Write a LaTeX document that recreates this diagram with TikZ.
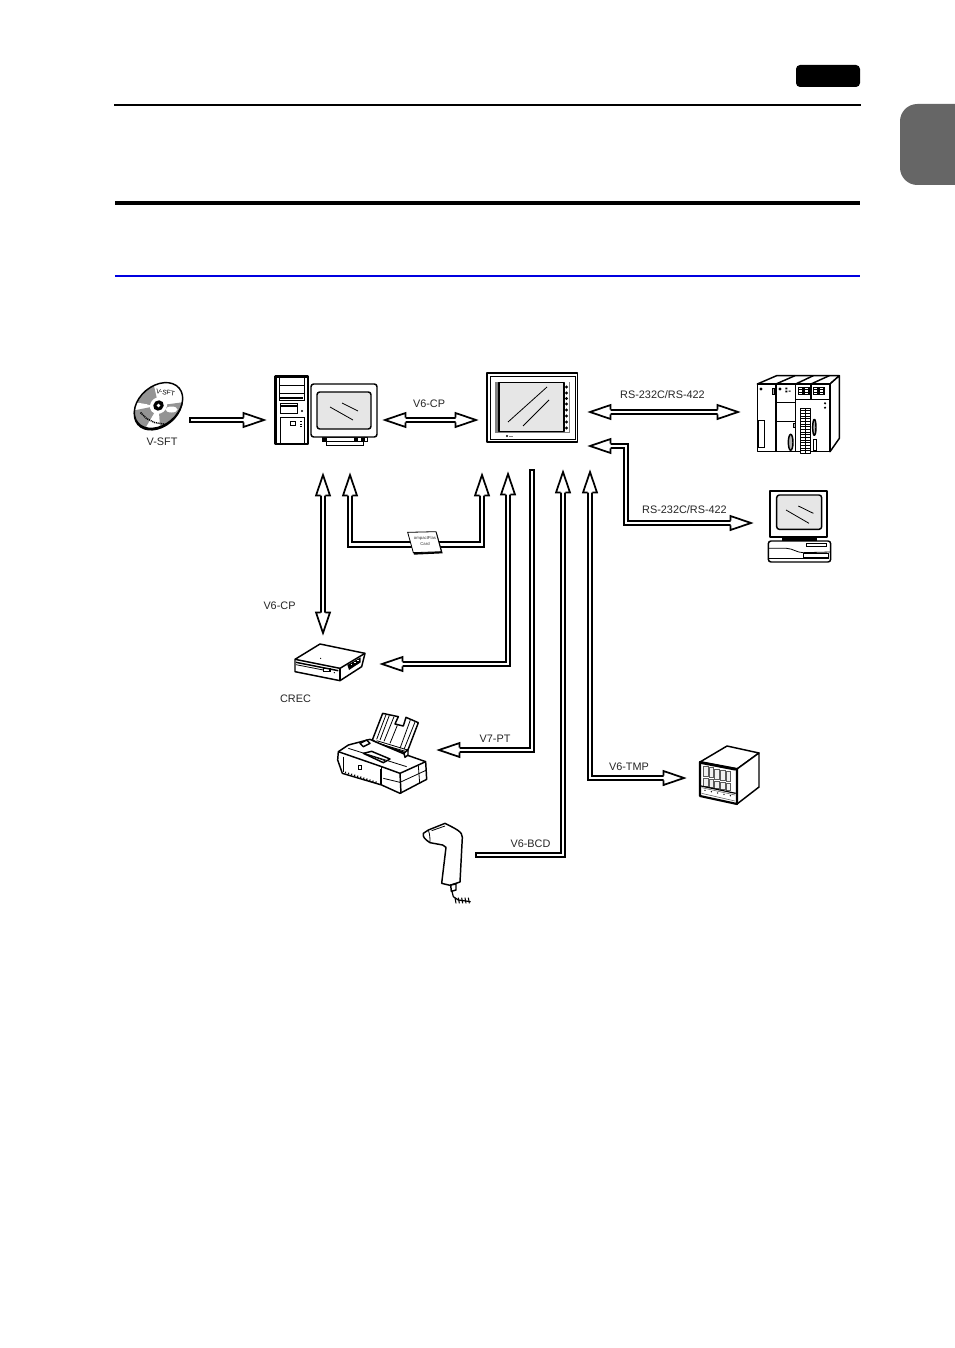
\documentclass[tikz,border=0pt]{standalone}
\usepackage{fontspec}
\setmainfont{Liberation Sans}
\definecolor{scr}{HTML}{E6E6E6}
\definecolor{tabgray}{HTML}{666666}
\definecolor{rulblue}{HTML}{0000E0}
\tikzset{
  pipe/.style={draw=black,line width=1.25pt,double=white,double distance=2.1pt,line join=miter},
  tipA/.style={shorten >=17.4pt},
  tipB/.style={shorten <=17.4pt},
  lab/.style={font=\fontsize{8.15pt}{9pt}\selectfont,text=black!85,inner sep=0pt},
  dev/.style={draw=black,line width=1.1pt,line join=round},
  devthin/.style={draw=black,line width=.6pt},
  devhair/.style={draw=black!65,line width=.4pt},
  devthick/.style={draw=black,line width=1.6pt,line join=round},
  zm/.style 2 args={shift={(#1,#2)},x=.25pt,y=-.25pt},
  hd/.pic={\draw[fill=white,draw=black,line width=1.3pt,line join=miter]
     (-23.5,2.3)--(-23.5,7)--(-3,0)--(-23.5,-7)--(-23.5,-2.3);},
  endcap/.pic={\draw[black,line width=1.25pt] (0,-3)--(0,3);}
}
\begin{document}
\begin{tikzpicture}[x=.75pt,y=-.75pt]
\useasboundingbox (0,0) rectangle (954,1348);
\fill[white] (0,0) rectangle (954,1348);
% page furniture
\fill[black,rounded corners=3pt] (796,65) rectangle (860,87);
\draw[black,line width=2.2pt] (114,105)--(861,105);
\draw[black,line width=3pt] (115,203)--(860,203);
\draw[rulblue,line width=1.1pt] (115,276)--(860,276);
\fill[tabgray,rounded corners=13pt] (900,104) rectangle (980,185);

% connector end points
\coordinate (sftA) at (190,420);
\coordinate (sftB) at (267,420);
\coordinate (cpL) at (382,420);
\coordinate (cpR) at (479,420);
\coordinate (crT) at (323,472);
\coordinate (crB) at (323,636);
\coordinate (cfL) at (350,472);
\coordinate (cfLb) at (350,544.5);
\coordinate (cfRb) at (482,544.5);
\coordinate (cfR) at (482,472);
\coordinate (recT) at (508,471);
\coordinate (recC) at (508,664);
\coordinate (recE) at (379,664);
\coordinate (ptT) at (532,470);
\coordinate (ptC) at (532,750);
\coordinate (ptE) at (436,750);
\coordinate (bcT) at (563,469);
\coordinate (bcC) at (563,855);
\coordinate (bcE) at (476,855);
\coordinate (tmT) at (590,469);
\coordinate (tmC) at (590,778);
\coordinate (tmE) at (687,778);
\coordinate (rsL) at (587,412);
\coordinate (rsR) at (741,412);
\coordinate (r2L) at (587,446);
\coordinate (r2C) at (626,446);
\coordinate (r2D) at (626,523);
\coordinate (r2E) at (754,523);

% connectors
\draw[pipe,tipA] (sftA)--(sftB);
\draw[pipe,tipA,tipB] (cpL)--(cpR);
\draw[pipe,tipA,tipB] (crT)--(crB);
\draw[pipe,tipA,tipB] (cfL)--(cfLb)--(cfRb)--(cfR);
\draw[pipe,tipA,tipB] (recT)--(recC)--(recE);
\draw[pipe,tipA] (ptT)--(ptC)--(ptE);
\draw[pipe,tipB] (bcT)--(bcC)--(bcE);
\draw[pipe,tipA,tipB] (tmT)--(tmC)--(tmE);
\draw[pipe,tipA,tipB] (rsL)--(rsR);
\draw[pipe,tipA,tipB] (r2L)--(r2C)--(r2D)--(r2E);

\pic at (sftA) {endcap};
\pic[rotate=90] at (ptT) {endcap};
\pic at (bcE) {endcap};
\pic at (sftB) {hd};
\pic[rotate=180] at (cpL) {hd};
\pic at (cpR) {hd};
\pic[rotate=90] at (crT) {hd};
\pic[rotate=-90] at (crB) {hd};
\pic[rotate=90] at (cfL) {hd};
\pic[rotate=90] at (cfR) {hd};
\pic[rotate=90] at (recT) {hd};
\pic[rotate=180] at (recE) {hd};
\pic[rotate=180] at (ptE) {hd};
\pic[rotate=90] at (bcT) {hd};
\pic[rotate=90] at (tmT) {hd};
\pic at (tmE) {hd};
\pic[rotate=180] at (rsL) {hd};
\pic at (rsR) {hd};
\pic[rotate=180] at (r2L) {hd};
\pic at (r2E) {hd};

% labels
\node[lab] (l1) at (162,442) {V-SFT};
\node[lab] (l2) at (429,404) {V6-CP};
\node[lab] (l3) at (662.5,395) {RS-232C/RS-422};
\node[lab] (l4) at (684.5,510) {RS-232C/RS-422};
\node[lab] (l5) at (279.5,606) {V6-CP};
\node[lab] (l6) at (295.5,699) {CREC};
\node[lab] (l7) at (495,739) {V7-PT};
\node[lab] (l8) at (530.5,844) {V6-BCD};
\node[lab] (l9) at (629,767) {V6-TMP};

% CD
\begin{scope}[shift={(158.5,405.5)}]
\fill[black,rotate=40] (-1.2,1.2) ellipse [x radius=27.5,y radius=20];
\begin{scope}
\clip[rotate=40] (0,0) ellipse [x radius=27,y radius=19.5];
\fill[white] (-30,-30) rectangle (30,30);
\fill[black!42] (0,0)--(-30,-2)--(-30,-24)--(-6,-26)--cycle;
\fill[black!42] (0,0)--(30,-4)--(30,16)--(18,28)--(2,28)--cycle;
\fill[black!42] (0,0)--(-30,6)--(-30,12)--(-14,24)--cycle;
\fill[white] (13,4) ellipse [x radius=6,y radius=3];
\fill[white] (-10,-1) -- (-28,-4) -- (-28,2)-- cycle;
\end{scope}
\draw[dev,rotate=40] (0,0) ellipse [x radius=27,y radius=19.5];
\fill[white,rotate=40] (0,0) ellipse [x radius=9,y radius=8];
\fill[black,rotate=40] (0,0) ellipse [x radius=5.5,y radius=5];
\fill[white] (0,0) circle (1.8);
\node[rotate=-10,font=\fontsize{5pt}{5pt}\selectfont,inner sep=0pt] (cdt) at (7,-13) {V-SFT};
\draw[black,line width=1.1pt,dash pattern=on .8pt off .6pt] (-18,7)--(-12,13)--(-4,17)--(8,19);
\end{scope}

% PC tower
\draw[devthick,fill=white] (275.5,376.5) rectangle (308,444);
\draw[devthin] (279,377.5) rectangle (304.5,400);
\draw[devthin] (279,385)--(304.5,385);
\draw[devthin] (279,393)--(304.5,393);
\draw[black,line width=1pt] (280,398)--(303,398);
\draw[devthin,fill=white] (280,403) rectangle (297,413);
\draw[black,line width=1pt] (280,406)--(297,406);
\fill[black] (302,411) circle (1.2);
\draw[devthin] (280,444)--(280,417.5)--(304.5,417.5)--(304.5,444);
\draw[devthin] (290,421) rectangle (295,425);
\draw[black,line width=1pt,densely dotted] (301,421)--(301,427);
% PC monitor
\draw[devthin,fill=white] (322,437) rectangle (367,441);
\fill[black] (323,437) rectangle (327,441);
\fill[black] (354,437) rectangle (358,441);
\fill[black] (361,437) rectangle (365,441);
\draw[devthin,fill=white] (326,441) rectangle (363,445);
\draw[dev,fill=white,rounded corners=2pt] (311,384) rectangle (377,437);
\draw[dev,fill=scr,rounded corners=2pt] (317,392) rectangle (371,429);
\draw[devthin] (330,407)--(353,420);
\draw[devthin] (342,403)--(358,411);

% touch panel
\draw[dev,fill=white] (487,373) rectangle (577.5,442);
\draw[devthin] (490,376) rectangle (575,439);
\fill[black!50] (495,382) rectangle (564,432.5);
\draw[black!50,line width=.6pt] (564,432)--(569,432)--(569,382);
\draw[dev,fill=scr] (499,382.5) rectangle (564,431.5);
\foreach \yy in {387,393,398.5,404,410,416,422,428}{\fill[black] (566.5,\yy) circle (1.6);}
\draw[devthin] (508,422)--(547,387);
\draw[devthin] (523,426)--(549,400);
\fill[black] (507,436) circle (1.1);
\draw[black!50,line width=.4pt] (509,436.5)--(513,436.5);

% PLC
\begin{scope}[zm={750}{370}]
\draw[dev,fill=white] (22,42)--(80,17)--(268,17)--(240,42)--cycle;
\draw[dev,fill=white] (240,42)--(268,17)--(268,205)--(240,245)--cycle;
\draw[dev,fill=white] (22,42) rectangle (240,245);
\draw[dev] (78,42)--(135,17) (137,42)--(190,17) (183,42)--(238,17);
\draw[dev] (78,42)--(78,245) (137,42)--(137,245) (183,42)--(183,88);
\draw[dev] (137,88)--(240,88);
\draw[dev] (78,97)--(137,97) (78,155)--(137,155);
\draw[devthin] (25,152) rectangle (43,232);
\fill[black] (33,57) circle (5);
\fill[black] (90,57) circle (5);
\fill[black] (106,53) rectangle (112,58) (106,62) rectangle (112,67) (116,62) rectangle (122,65);
\draw[devthin,fill=black!30] (66,55) rectangle (74,72);
\draw[devthin,fill=black!30] (129,160) rectangle (135,172);
\foreach \xx in {143,188}{
  \fill[black] (\xx,50) rectangle (\xx+36,76);
  \foreach \i in {0,1,2}{\fill[white] (\xx+4,54+\i*7) rectangle (\xx+14,58+\i*7);
                         \fill[white] (\xx+21,54+\i*7) rectangle (\xx+32,58+\i*7);}
}
\draw[dev,fill=white] (152,115) rectangle (182,250);
\draw[devthin] (167,115)--(167,250);
\foreach \yy in {122,130,...,245}{\draw[devthin] (152,\yy)--(182,\yy);}
\draw[dev,fill=black!30] (122,217) ellipse [x radius=7,y radius=24];
\draw[dev,fill=black!30] (193,172) ellipse [x radius=5,y radius=24];
\draw[devthin] (190,207) rectangle (200,241);
\fill[black] (225,100) circle (3.5) (225,113) circle (3.5);
\end{scope}

% lower right computer
\begin{scope}[zm={600}{360}]
\fill[black] (545,530) rectangle (650,543);
\draw[dev,rounded corners=2pt,fill=white] (505,543) rectangle (692,606);
\draw[devthin] (505,565)--(560,565)..controls (580,566) and (590,578) ..(610,578)--(692,576);
\draw[devthin] (620,550) rectangle (680,560);
\draw[devthin] (610,580) rectangle (685,592);
\draw[devthin] (508,596)--(688,596);
\draw[devthick,fill=white] (511,392) rectangle (682,530);
\draw[dev,fill=scr,rounded corners=2pt] (530,405) rectangle (665,508);
\draw[devthin] (558,450)--(627,490);
\draw[devthin] (595,438)--(640,460);
\end{scope}

% CREC
\begin{scope}[zm={270}{630}]
\draw[dev,fill=white] (75,88)--(150,42)--(285,70)--(275,110)--(210,152)--(75,125)--cycle;
\draw[dev] (75,88)--(210,115)--(285,70);
\draw[dev] (210,115)--(210,152);
\draw[dev] (78,97)--(205,122);
\draw[devthin] (78,104)--(160,120);
\draw[black,line width=1.1pt] (160,115) rectangle (180,125);
\fill[black] (152,85) circle (2);
\fill[black] (193,128) circle (2);
\fill[black] (232,105)--(272,82)--(272,97)--(237,120)--cycle;
\foreach \k in {0,1,2}{\fill[white] (242+\k*10,103-\k*6) rectangle ++(5,3);}
\end{scope}

% printer
\begin{scope}[zm={335}{710}]
\draw[dev,fill=white] (112,90)--(143,10)--(190,20)--(180,42)--(205,48)--(213,22)--(250,38)--(215,130)--(130,100)--cycle;
\draw[devthin] (125,88)--(153,14) (135,90)--(163,16) (147,94)--(177,20) (207,118)--(240,36) (195,115)--(226,30);
\draw[devthin] (165,100)--(187,46);
\draw[devthin] (122,98)--(215,125) (125,92)--(218,120);
\draw[dev,fill=white] (10,125)--(40,105)--(105,88)--(120,95)--(215,135)--(272,155)--(275,208)--(195,250)--(140,225)--(22,190)--(8,150)--cycle;
\draw[dev] (10,125)--(140,170)--(195,190)--(272,155);
\draw[dev] (195,190)--(198,250);
\draw[dev] (140,170)--(140,225);
\draw[dev] (25,140)--(25,186);
\draw[devthin] (135,178)--(135,222);
\draw[devthin] (145,205)--(195,217)--(275,180);
\draw[devthin] (250,167)--(254,220);
\draw[dev] (85,130)--(110,124)--(165,147)--(145,158)--cycle;
\draw[devthin] (100,135)--(150,152);
\draw[devthin] (70,165) rectangle (80,178);
\draw[black,line width=1.2pt,dash pattern=on .8pt off 1.6pt] (30,187)--(125,217);
\draw[dev,fill=white] (75,100)--(95,90)--(105,100)--(85,110)--cycle;
\draw[devthin] (40,115)--(215,170);
\draw[dev,fill=white] (207,130)--(219,118)--(219,135)--(210,142)--cycle;
\end{scope}

% temperature controller
\begin{scope}[zm={695}{740}]
\draw[dev,fill=white] (15,66)--(96,18)--(192,39)--(126,87)--cycle;
\draw[dev,fill=white] (126,87)--(192,39)--(192,141)--(126,192)--cycle;
\draw[devthick,fill=white] (15,66)--(126,87)--(126,192)--(15,168)--cycle;
\fill[black] (18,68)--(122,88)--(122,92)--(18,72)--cycle;
\foreach \i in {0,1,2,3,4}{
  \pgfmathsetmacro{\xa}{25+17*\i}
  \pgfmathsetmacro{\ya}{80+.19*17*\i}
  \draw[devhair,fill=black!6] (\xa,\ya) rectangle ++(14,30);
  \draw[devhair,fill=black!6] (\xa,\ya+36) rectangle ++(14,22);
}
\draw[black,line width=.9pt] (18,138)--(122,160);
\draw[devhair] (20,143)--(120,165) (20,160)--(120,183);
\foreach \i in {0,1,2,3,4}{\fill[black] (30+19*\i,151+4*\i) circle (2.2);}
\end{scope}

% bar-code reader
\begin{scope}[zm={400}{730}]
\draw[dev,fill=white] (70,310)..controls (68,322) and (75,328) ..(90,338)--(128,345)--(138,352)--(125,460)--(150,466)--(180,456)--(187,322)..controls (187,305) and (170,298) ..(135,280)--(85,300)--cycle;
\draw[devthin] (85,300)..controls (90,315) and (90,325) ..(90,338);
\draw[devthin] (95,302)--(135,288);
\draw[dev,fill=white] (152,465)--(168,462)--(168,480)--(154,484)--cycle;
\draw[black,line width=.9pt] (156,484)--(160,500)--(175,510)--(212,515);
\foreach \xx in {165,175,185,195,205}{\draw[black,line width=.8pt] (\xx,503)--(\xx+3,520);}
\end{scope}

% CompactFlash card
\begin{scope}[zm={380}{360}]
\fill[black] (85,520)--(170,517)--(188,580)--(102,584)--cycle;
\draw[devthin,fill=white] (83,517)--(168,515)--(184,575)--(100,578)--cycle;
\end{scope}
\node[font=\fontsize{3.2pt}{4pt}\selectfont,align=center,inner sep=0pt,text=black!80] (cf) at (425,541) {ompactFlas\\Card};
\end{tikzpicture}
\end{document}
